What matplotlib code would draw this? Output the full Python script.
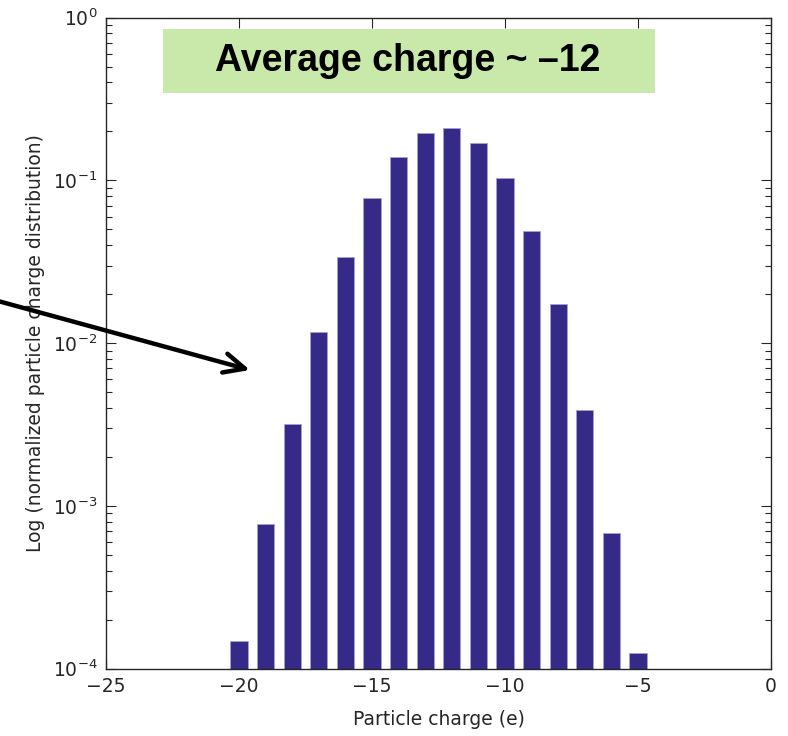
import numpy as np
import matplotlib
matplotlib.use('Agg')
import matplotlib.pyplot as plt
from matplotlib.patches import Rectangle
from matplotlib.ticker import LogLocator, NullFormatter

# charge bins (e) and normalized distribution
charges = [-20, -19, -18, -17, -16, -15, -14, -13, -12, -11, -10, -9, -8, -7, -6, -5]
fractions = [1.37e-4, 7.64e-4, 3.18e-3, 0.0117, 0.0339, 0.0780, 0.139, 0.195,
             0.209, 0.171, 0.103, 0.0488, 0.0173, 3.89e-3, 6.70e-4, 1.14e-4]

xticks = [-25, -20, -15, -10, -5, 0]
label_text = 'Average charge ~ \u201312'

W, H = 788, 736
fig = plt.figure(figsize=(W / 100, H / 100), dpi=100)
ax = fig.add_axes([106 / W, 1 - 668.7 / H, (771 - 106) / W, (668.7 - 17.7) / H])

ax.bar(charges, fractions, width=0.64, bottom=1e-5, color='#352a87',
       edgecolor='#a59fd6', linewidth=0.6, zorder=2)

ax.set_yscale('log')
ax.set_ylim(1e-4, 1)
ax.set_xlim(-25, 0)
ax.set_xticks(xticks)
ax.set_xticklabels(['\u221225', '\u221220', '\u221215', '\u221210', '\u22125', '0'])
ax.yaxis.set_minor_locator(LogLocator(base=10, subs=np.arange(2, 10)))
ax.yaxis.set_minor_formatter(NullFormatter())

ax.tick_params(which='both', direction='in', top=True, right=True,
               colors='#262626', labelsize=13.5, width=0.8)
ax.tick_params(which='major', length=7, pad=6)
ax.tick_params(which='minor', length=4)
for sp in ax.spines.values():
    sp.set_color('#262626')
    sp.set_linewidth(1.0)

ax.set_xlabel('Particle charge (e)', fontsize=13.5, color='#262626', labelpad=10)
ax.set_ylabel('Log (normalized particle charge distribution)', fontsize=13.5,
              color='#262626', labelpad=6)

# green caption box
fig.patches.append(Rectangle((163 / W, 1 - 93 / H), (655 - 163) / W, (93 - 29) / H,
                             transform=fig.transFigure, facecolor='#c9e9ab',
                             edgecolor='none', zorder=3))
fig.text(408 / W, 1 - 61 / H, label_text, ha='center', va='center',
         fontsize=27, fontweight='bold', family=['Liberation Sans', 'DejaVu Sans'],
         color='black', zorder=4)

# pointer arrow
ax.annotate('', xy=(250 / W, 1 - 370 / H), xycoords='figure fraction',
            xytext=(-2 / W, 1 - 301 / H), textcoords='figure fraction',
            arrowprops=dict(arrowstyle='->,head_length=1.5,head_width=0.7',
                            lw=3.2, color='black', shrinkA=0, shrinkB=0),
            annotation_clip=False, zorder=5)

fig.savefig('out.png', dpi=100)
